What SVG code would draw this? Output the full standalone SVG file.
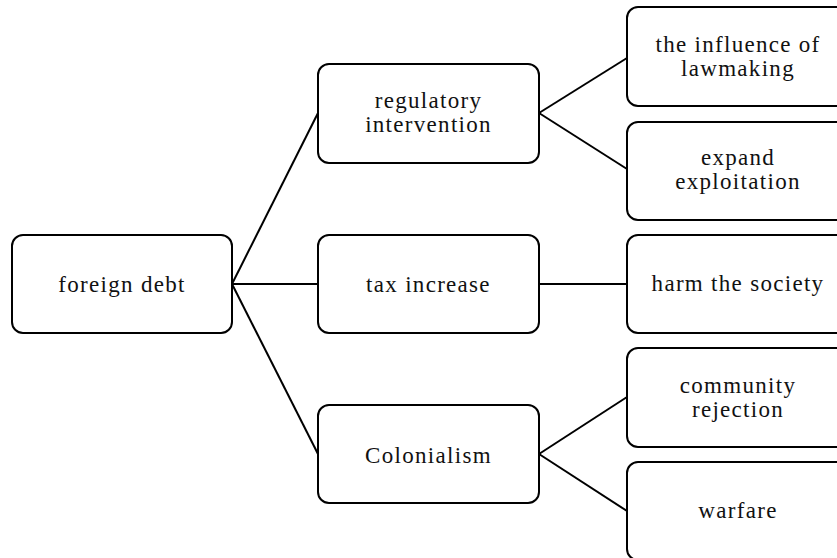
<svg xmlns="http://www.w3.org/2000/svg" width="837" height="558" viewBox="0 0 837 558">
<style>
.box{fill:#fff;stroke:#000;stroke-width:2}
.lbl{font-family:"Liberation Serif","Times New Roman",serif;font-size:23px;letter-spacing:1.3px;fill:#111;text-anchor:middle}
.con{stroke:#000;stroke-width:2;fill:none}
</style>
<rect width="837" height="558" fill="#fff"/>
<g id="connectors">
<line class="con" x1="232" y1="284" x2="318" y2="113"/>
<line class="con" x1="232" y1="284" x2="318" y2="284"/>
<line class="con" x1="232" y1="284" x2="318" y2="454"/>
<line class="con" x1="539" y1="113" x2="627" y2="58"/>
<line class="con" x1="539" y1="113" x2="627" y2="169"/>
<line class="con" x1="539" y1="284" x2="627" y2="284"/>
<line class="con" x1="539" y1="454" x2="627" y2="397"/>
<line class="con" x1="539" y1="454" x2="627" y2="511"/>
</g>
<g id="n-foreign-debt">
<rect class="box" x="12" y="235" width="220" height="98" rx="11"/>
<text class="lbl" x="122" y="292">foreign debt</text>
</g>
<g id="n-regulatory">
<rect class="box" x="318" y="64" width="221" height="99" rx="11"/>
<text class="lbl" x="428.5" y="108">regulatory</text>
<text class="lbl" x="428.5" y="132">intervention</text>
</g>
<g id="n-tax">
<rect class="box" x="318" y="235" width="221" height="98" rx="11"/>
<text class="lbl" x="428.5" y="292">tax increase</text>
</g>
<g id="n-colonialism">
<rect class="box" x="318" y="405" width="221" height="98" rx="11"/>
<text class="lbl" x="428.5" y="463">Colonialism</text>
</g>
<g id="n-influence">
<rect class="box" x="627" y="7" width="222" height="99" rx="11"/>
<text class="lbl" x="738" y="52">the influence of</text>
<text class="lbl" x="738" y="76">lawmaking</text>
</g>
<g id="n-expand">
<rect class="box" x="627" y="122" width="222" height="98" rx="11"/>
<text class="lbl" x="738" y="165">expand</text>
<text class="lbl" x="738" y="189">exploitation</text>
</g>
<g id="n-harm">
<rect class="box" x="627" y="235" width="222" height="98" rx="11"/>
<text class="lbl" x="738" y="291">harm the society</text>
</g>
<g id="n-community">
<rect class="box" x="627" y="348" width="222" height="99" rx="11"/>
<text class="lbl" x="738" y="393">community</text>
<text class="lbl" x="738" y="417">rejection</text>
</g>
<g id="n-warfare">
<rect class="box" x="627" y="462" width="222" height="98" rx="11"/>
<text class="lbl" x="738" y="518">warfare</text>
</g>
</svg>
